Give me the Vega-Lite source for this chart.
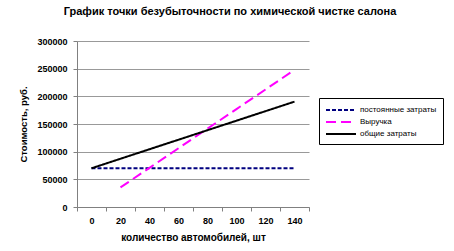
{
  "$schema": "https://vega.github.io/schema/vega-lite/v6.json",
  "width": 232,
  "height": 166,
  "autosize": {"type": "none"},
  "padding": {"left": 77, "top": 41, "right": 145, "bottom": 44},
  "background": "white",
  "title": {
    "text": "График точки безубыточности по химической чистке салона",
    "font": "Liberation Sans",
    "fontSize": 11,
    "fontWeight": "bold",
    "color": "black",
    "anchor": "middle",
    "dx": 37,
    "offset": 20
  },
  "data": {
    "values": [
      {"n": 0, "series": "постоянные затраты", "value": 70000},
      {"n": 20, "series": "постоянные затраты", "value": 70000},
      {"n": 40, "series": "постоянные затраты", "value": 70000},
      {"n": 60, "series": "постоянные затраты", "value": 70000},
      {"n": 80, "series": "постоянные затраты", "value": 70000},
      {"n": 100, "series": "постоянные затраты", "value": 70000},
      {"n": 120, "series": "постоянные затраты", "value": 70000},
      {"n": 140, "series": "постоянные затраты", "value": 70000},
      {"n": 20, "series": "Выручка", "value": 35400},
      {"n": 40, "series": "Выручка", "value": 70800},
      {"n": 60, "series": "Выручка", "value": 106200},
      {"n": 80, "series": "Выручка", "value": 141600},
      {"n": 100, "series": "Выручка", "value": 177000},
      {"n": 120, "series": "Выручка", "value": 212400},
      {"n": 140, "series": "Выручка", "value": 247800},
      {"n": 0, "series": "общие затраты", "value": 70000},
      {"n": 20, "series": "общие затраты", "value": 87200},
      {"n": 40, "series": "общие затраты", "value": 104400},
      {"n": 60, "series": "общие затраты", "value": 121600},
      {"n": 80, "series": "общие затраты", "value": 138800},
      {"n": 100, "series": "общие затраты", "value": 156000},
      {"n": 120, "series": "общие затраты", "value": 173200},
      {"n": 140, "series": "общие затраты", "value": 190400}
    ]
  },
  "mark": {"type": "line", "strokeWidth": 2},
  "encoding": {
    "x": {
      "field": "n",
      "type": "ordinal",
      "scale": {"type": "band", "paddingInner": 0, "paddingOuter": 0},
      "axis": {
        "title": "количество автомобилей, шт",
        "titleFont": "Liberation Sans",
        "titleFontSize": 10,
        "titleFontWeight": "bold",
        "titleColor": "black",
        "titlePadding": 7,
        "labelAngle": 0,
        "labelFont": "Liberation Sans",
        "labelFontSize": 9,
        "labelFontWeight": "bold",
        "labelColor": "black",
        "labelPadding": 5,
        "tickBand": "extent",
        "tickSize": 4,
        "tickColor": "#808080",
        "domainColor": "#808080",
        "grid": false
      }
    },
    "y": {
      "field": "value",
      "type": "quantitative",
      "scale": {"domain": [0, 300000], "nice": false},
      "axis": {
        "title": "Стоимость, руб.",
        "titleFont": "Liberation Sans",
        "titleFontSize": 9.5,
        "titleFontWeight": "bold",
        "titleColor": "black",
        "titlePadding": 8,
        "values": [0, 50000, 100000, 150000, 200000, 250000, 300000],
        "format": "d",
        "labelFont": "Liberation Sans",
        "labelFontSize": 9,
        "labelFontWeight": "bold",
        "labelColor": "black",
        "labelPadding": 6,
        "tickSize": 4,
        "tickColor": "#808080",
        "domainColor": "#808080",
        "gridColor": "#999999",
        "gridOpacity": 1
      }
    },
    "color": {
      "field": "series",
      "type": "nominal",
      "scale": {
        "domain": ["постоянные затраты", "Выручка", "общие затраты"],
        "range": ["#000080", "#FF00FF", "#000000"]
      },
      "legend": {
        "title": null,
        "orient": "none",
        "legendX": 242,
        "legendY": 57,
        "strokeColor": "black",
        "fillColor": "white",
        "padding": 6,
        "labelFont": "Liberation Sans",
        "labelFontSize": 8,
        "labelColor": "black",
        "symbolType": "M-3,0H3",
        "symbolSize": 100,
        "symbolStrokeWidth": 2,
        "symbolOffset": 10,
        "labelOffset": 13,
        "rowPadding": 2
      }
    },
    "strokeDash": {
      "field": "series",
      "type": "nominal",
      "scale": {
        "domain": ["постоянные затраты", "Выручка", "общие затраты"],
        "range": [[4, 2], [10, 5], [1, 0]]
      },
      "legend": {
        "title": null,
        "orient": "none",
        "legendX": 242,
        "legendY": 57,
        "strokeColor": "black",
        "fillColor": "white",
        "padding": 6,
        "labelFont": "Liberation Sans",
        "labelFontSize": 8,
        "labelColor": "black",
        "symbolType": "M-3,0H3",
        "symbolSize": 100,
        "symbolStrokeWidth": 2,
        "symbolOffset": 10,
        "labelOffset": 13,
        "rowPadding": 2
      }
    }
  },
  "config": {
    "view": {"stroke": null}
  }
}
